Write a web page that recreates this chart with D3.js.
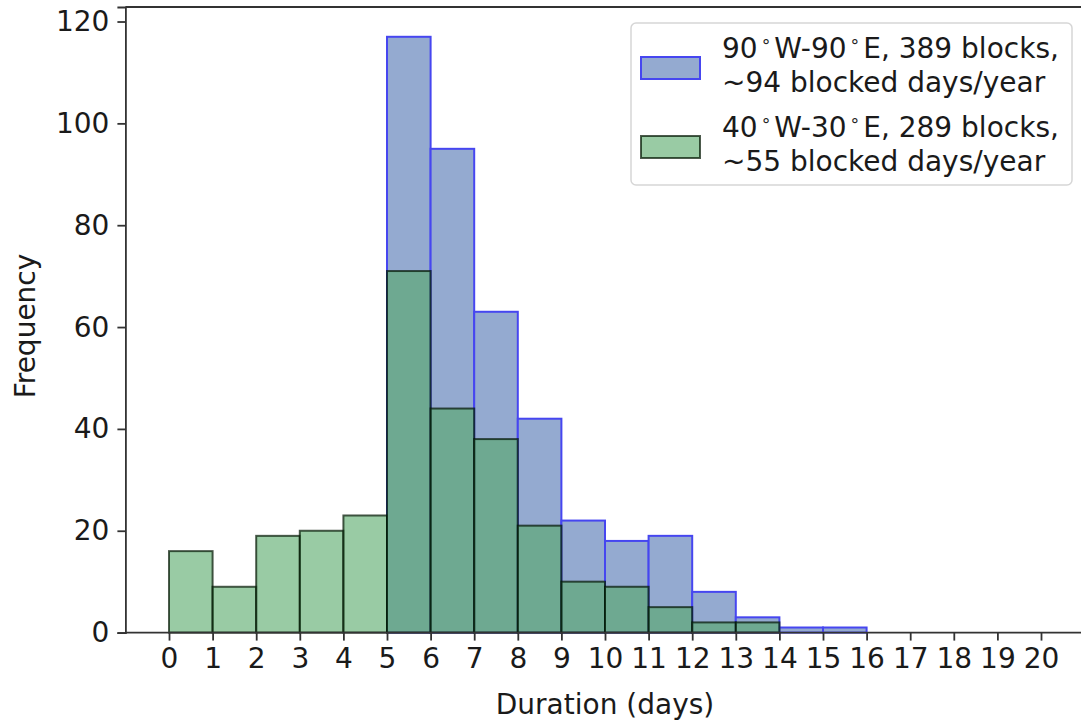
<!DOCTYPE html>
<html><head><meta charset="utf-8">
<script src="https://cdn.jsdelivr.net/npm/d3@7"></script>
<style>body{margin:0;background:#fff}svg{display:block}text{font-family:"DejaVu Sans",sans-serif;fill:#1a1a1a}</style>
</head><body><svg id="c" width="1081" height="722"></svg>
<script>
const binStarts = [0,1,2,3,4,5,6,7,8,9,10,11,12,13,14,15];
const wideCounts = [0,0,0,0,0,117,95,63,42,22,18,19,8,3,1,1];
const atlCounts = [16,9,19,20,23,71,44,38,21,10,9,5,2,2,0,0];
const xTicks = d3.range(0,21);
const yTicks = [0,20,40,60,80,100,120];
const legendLines = [
  ["90", "W-90", "E, 389 blocks,", "~94 blocked days/year"],
  ["40", "W-30", "E, 289 blocks,", "~55 blocked days/year"]
];

const svg = d3.select("#c");
const x = d3.scaleLinear().domain([-1,21]).range([125.4, 1084.6]);
const y = d3.scaleLinear().domain([0,122.85]).range([632.6, 7]);

const blueFill = "rgb(148,170,208)", greenFill = "rgba(85,168,104,0.6)";
svg.append("g").selectAll("rect").data(binStarts.filter((d,i)=>wideCounts[i]>0)).join("rect")
  .attr("x", d=>x(d)).attr("width", d=>x(d+1)-x(d))
  .attr("y", d=>y(wideCounts[d])).attr("height", d=>y(0)-y(wideCounts[d]))
  .attr("fill", blueFill).attr("stroke","rgb(70,70,240)").attr("stroke-width",2);
svg.append("g").selectAll("rect").data(binStarts.filter((d,i)=>atlCounts[i]>0)).join("rect")
  .attr("x", d=>x(d)).attr("width", d=>x(d+1)-x(d))
  .attr("y", d=>y(atlCounts[d])).attr("height", d=>y(0)-y(atlCounts[d]))
  .attr("fill", greenFill).attr("stroke","rgba(0,20,0,0.7)").attr("stroke-width",2);

const fs = 28;
const xa = svg.append("g").attr("transform",`translate(0,${y(0)})`)
  .call(d3.axisBottom(x).tickValues(xTicks).tickSize(8).tickPadding(8).tickFormat(d3.format("d")));
const ya = svg.append("g").attr("transform",`translate(${x(-1)},0)`)
  .call(d3.axisLeft(y).tickValues(yTicks).tickSize(8).tickPadding(8));
[xa,ya].forEach(a=>{
  a.selectAll("path").attr("stroke","#333").attr("stroke-width",1.8);
  a.selectAll("line").attr("stroke","#333").attr("stroke-width",1.8);
  a.selectAll("text").attr("font-size",fs).attr("font-family","DejaVu Sans").attr("fill","#1a1a1a");
});
xa.select(".domain").attr("d",`M${x(-1)},0H1081`);
svg.append("line").attr("x1",x(-1)).attr("x2",1081).attr("y1",y(122.85)).attr("y2",y(122.85))
  .attr("stroke","#333").attr("stroke-width",1.8);

svg.append("text").attr("x", x(10)).attr("y", 714).attr("text-anchor","middle")
  .attr("font-size",fs).text("Duration (days)");
svg.append("text").attr("transform","translate(35,326) rotate(-90)").attr("text-anchor","middle")
  .attr("font-size",fs).text("Frequency");

const lg = svg.append("g");
lg.append("rect").attr("x",631).attr("y",23).attr("width",441).attr("height",162).attr("rx",5)
  .attr("fill","rgba(255,255,255,0.85)").attr("stroke","#d6d6d6").attr("stroke-width",1.5);
const patches = [{fill:blueFill, stroke:"rgb(70,70,240)"},{fill:"rgb(153,203,164)", stroke:"rgba(0,20,0,0.7)"}];
legendLines.forEach((L,i)=>{
  const y0 = 58 + i*79;
  lg.append("rect").attr("x",641).attr("y",y0-1).attr("width",59).attr("height",22)
    .attr("fill",patches[i].fill).attr("stroke",patches[i].stroke).attr("stroke-width",2);
  const t = lg.append("text").attr("x",722).attr("y",y0).attr("font-size",fs);
  t.append("tspan").text(L[0]);
  t.append("tspan").attr("dx",3).attr("dy",-11).attr("font-size",17).text("∘");
  t.append("tspan").attr("dx",3).attr("dy",11).text(L[1]);
  t.append("tspan").attr("dx",3).attr("dy",-11).attr("font-size",17).text("∘");
  t.append("tspan").attr("dx",3).attr("dy",11).text(L[2]);
  lg.append("text").attr("x",722).attr("y",y0+34).attr("font-size",fs).text(L[3]);
});
</script></body></html>
